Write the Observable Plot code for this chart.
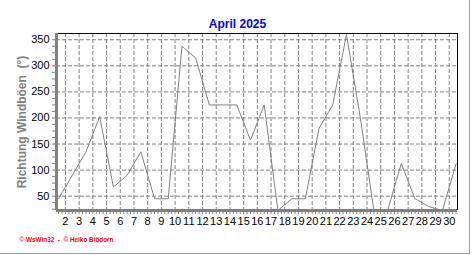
<!DOCTYPE html>
<html><head><meta charset="utf-8">
<script src="https://cdn.jsdelivr.net/npm/d3@7"></script>
<script src="https://cdn.jsdelivr.net/npm/@observablehq/plot@0.6"></script>
<style>
body{margin:0;background:#fff;}
#wrap{position:relative;width:472px;height:255px;overflow:hidden;background:#fff;}
#edge{position:absolute;left:0;top:0;width:469px;height:253px;border-right:1px solid #a0a0a0;border-bottom:1px solid #a0a0a0;pointer-events:none;}
</style></head><body>
<div id="wrap"><div id="edge"></div></div>
<script>
// Data
const days = [1,2,3,4,5,6,7,8,9,10,11,12,13,14,15,16,17,18,19,20,21,22,23,24,25,26,27,28,29,30];
const direction = [45,90,135,202.5,67.5,90,135,45,45,337.5,315,225,225,225,157.5,225,22.5,45,45,180,225,360,202.5,22.5,22.5,112.5,45,30,22.5,112.5];
const xTickLabels = [2,3,4,5,6,7,8,9,10,11,12,13,14,15,16,17,18,19,20,21,22,23,24,25,26,27,28,29,30];
const yTickValues = [50,100,150,200,250,300,350];
const title = "April 2025";
const yLabel = "Richtung Windböen  (°)";
const footer = "© WsWin32  -  © Heiko Blödorn";
const xDomain = [0.85, 30.1];
const yDomain = [22.5, 362];

const rows = days.map((d, i) => ({day: d, dir: direction[i]}));
const minorY = d3.range(25, 362, 12.5);
const minorX = d3.range(1, 30.1, 0.25);
const grid = "#808080";

const chart = Plot.plot({
  width: 472, height: 255,
  marginLeft: 56, marginRight: 15, marginTop: 33, marginBottom: 45,
  x: {domain: xDomain, axis: null},
  y: {domain: yDomain, axis: null},
  style: {fontFamily: "'Liberation Sans', Arial, sans-serif", background: "transparent", overflow: "visible"},
  marks: [
    Plot.ruleY(yTickValues, {stroke: grid, strokeDasharray: "4,2", strokeWidth: 1}),
    Plot.ruleX(xTickLabels, {x: d => d - 0.5, stroke: grid, strokeDasharray: "4,2", strokeWidth: 1}),
    Plot.line(rows, {x: "day", y: "dir", stroke: "#808080", strokeWidth: 1, clip: true}),
    Plot.ruleY([yDomain[1]], {stroke: "black", strokeWidth: 1}),
    Plot.ruleX([xDomain[1]], {stroke: "black", strokeWidth: 1}),
    Plot.axisY(minorY, {tickSize: 4, tickFormat: () => "", stroke: grid, label: null}),
    Plot.axisY(yTickValues, {tickSize: 0, tickPadding: 7, fontSize: 11, fill: "black", label: null}),
    Plot.axisX(minorX, {tickSize: 4, tickFormat: () => "", stroke: grid, label: null}),
    Plot.text(xTickLabels, {x: d => d - 0.5, text: d => String(d), frameAnchor: "bottom", dy: 14.4, fontSize: 11, fill: "black"}),
    Plot.ruleX([xDomain[0]], {stroke: grid, strokeWidth: 3}),
    Plot.ruleY([yDomain[0]], {stroke: grid, strokeWidth: 3}),
    Plot.text([title], {frameAnchor: "top", dx: -19.5, dy: -14, fill: "#0000ff", fontWeight: "bold", fontSize: 12}),
    Plot.text([yLabel], {frameAnchor: "left", textAnchor: "middle", rotate: -90, dx: -34, fill: "#808080", fontWeight: "bold", fontSize: 12}),
    Plot.text([footer], {frameAnchor: "bottom-left", textAnchor: "start", dx: -37, dy: 31.4, fill: "#ff0000", fontWeight: "bold", fontSize: 8})
  ]
});
d3.select(chart).selectAll("text").filter(function() { return this.textContent === footer; })
  .attr("textLength", 94).attr("lengthAdjust", "spacingAndGlyphs");
document.getElementById("wrap").prepend(chart);
</script>
</body></html>
